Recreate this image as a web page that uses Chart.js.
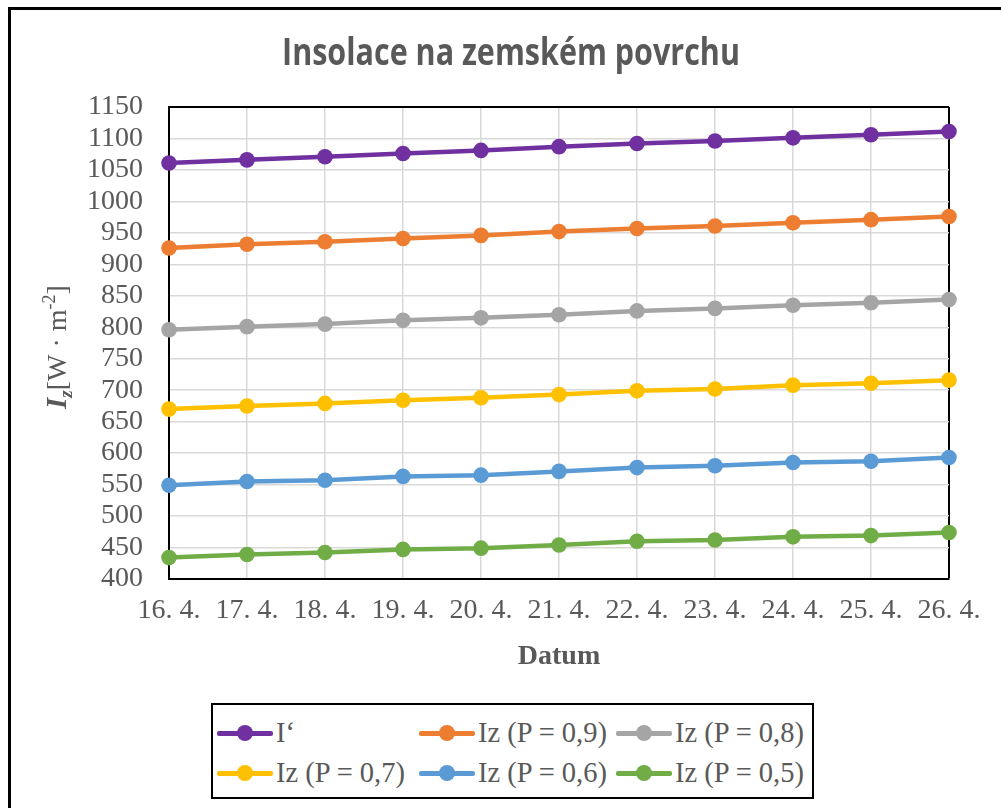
<!DOCTYPE html>
<html>
<head>
<meta charset="utf-8">
<script src="https://cdn.jsdelivr.net/npm/chart.js@4.4.0/dist/chart.umd.min.js"></script>
<style>
  html, body { margin: 0; padding: 0; background: #fff; overflow: hidden; }
  #wrap { position: relative; width: 1001px; height: 808px; }
  #frame { position: absolute; left: 8px; top: 7px; width: 1100px; height: 900px; border: 3px solid #000; }
  canvas { position: absolute; left: 0; top: 0; }
  #legend {
    position: absolute; left: 211px; top: 703px; width: 603px; height: 96px;
    border: 2px solid #000; background: #fff;
    display: grid; grid-template-columns: 202px 197px auto; grid-auto-rows: 40px;
    padding: 8px 0 0 4px; box-sizing: border-box;
    font-family: 'Liberation Serif', 'Times New Roman', serif; font-size: 28.5px; color: #595959;
  }
  .item { display: flex; align-items: center; white-space: nowrap; }
  .sym { position: relative; width: 56px; height: 16px; margin-right: 3px; flex: none; }
  .sym .ln { position: absolute; left: 0; right: 0; top: 6px; height: 4.5px; border-radius: 2px; }
  .sym .dot { position: absolute; left: 20px; top: 0; width: 16px; height: 16px; border-radius: 50%; }
</style>
</head>
<body>
<div id="wrap">
  <div id="frame"></div>
  <canvas id="chart" width="1001" height="808"></canvas>
  <div id="legend"></div>
</div>
<script>
'use strict';

// ─── Data ─────────────────────────────────────────────────────
const dates = ['16. 4.', '17. 4.', '18. 4.', '19. 4.', '20. 4.', '21. 4.',
               '22. 4.', '23. 4.', '24. 4.', '25. 4.', '26. 4.'];

const iPrime = [1061, 1066, 1071, 1076, 1081, 1087, 1092, 1096, 1101, 1106, 1111];
const iz09   = [926, 932, 936, 941, 946, 952, 957, 961, 966, 971, 976];
const iz08   = [796, 801, 805, 811, 815, 820, 826, 830, 835, 839, 844];
const iz07   = [670, 675, 679, 684, 688, 693, 699, 702, 708, 711, 716];
const iz06   = [549, 555, 557, 563, 565, 571, 577, 580, 585, 587, 593];
const iz05   = [434, 439, 442, 447, 449, 454, 460, 462, 467, 469, 474];

const seriesNames  = ['I\u2018', 'Iz (P = 0,9)', 'Iz (P = 0,8)', 'Iz (P = 0,7)', 'Iz (P = 0,6)', 'Iz (P = 0,5)'];
const seriesValues = [iPrime, iz09, iz08, iz07, iz06, iz05];
const seriesColors = ['#7030A0', '#ED7D31', '#A5A5A5', '#FFC000', '#5B9BD5', '#70AD47'];

const chartTitle = 'Insolace na zemském povrchu';

const Y_MIN = 400;
const Y_MAX = 1150;
const Y_STEP = 50;

const GRID = '#D9D9D9';
const TEXT = '#595959';
const SERIF = "'Liberation Serif', 'Times New Roman', serif";

// ─── Title (a bit taller than wide, like Calibri in the original) ──
const titlePlugin = {
    id: 'bigTitle',
    afterDraw(chart) {
        const ctx = chart.ctx;
        ctx.save();
        ctx.font = "bold 30.5px 'Open Sans', sans-serif";
        ctx.fillStyle = TEXT;
        ctx.textAlign = 'center';
        ctx.textBaseline = 'alphabetic';
        ctx.translate(511, 65);
        ctx.scale(1, 1.22);
        ctx.fillText(chartTitle, 0, 0);
        ctx.restore();
    }
};

// ─── Y axis title with sub/superscripts ──────────────────────
const yTitlePlugin = {
    id: 'yTitle',
    afterDraw(chart) {
        const ctx = chart.ctx;
        const area = chart.chartArea;
        const parts = [
            { t: 'I', f: `italic bold 29px ${SERIF}`, dy: 0 },
            { t: 'z', f: `italic bold 19px ${SERIF}`, dy: 6 },
            { t: '[W \u00B7 m', f: `28px ${SERIF}`, dy: 0 },
            { t: '-2', f: `18px ${SERIF}`, dy: -11 },
            { t: ']', f: `28px ${SERIF}`, dy: 0 }
        ];
        ctx.save();
        let total = 0;
        parts.forEach(p => { ctx.font = p.f; p.w = ctx.measureText(p.t).width; total += p.w; });
        ctx.translate(66, (area.top + area.bottom) / 2 + 4);
        ctx.rotate(-Math.PI / 2);
        ctx.fillStyle = TEXT;
        ctx.textBaseline = 'alphabetic';
        ctx.textAlign = 'left';
        let x = -total / 2;
        parts.forEach(p => {
            ctx.font = p.f;
            ctx.fillText(p.t, x, p.dy);
            x += p.w;
        });
        ctx.restore();
    }
};

// ─── Chart ───────────────────────────────────────────────────
const datasets = seriesValues.map((vals, i) => ({
    label: seriesNames[i],
    data: vals,
    borderColor: seriesColors[i],
    backgroundColor: seriesColors[i],
    pointBackgroundColor: seriesColors[i],
    pointBorderColor: seriesColors[i],
    borderWidth: 4.5,
    pointRadius: 7.8,
    pointHoverRadius: 7.8,
    pointBorderWidth: 0,
    tension: 0,
    clip: false
}));

new Chart(document.getElementById('chart'), {
    type: 'line',
    data: { labels: dates, datasets },
    options: {
        responsive: false,
        animation: false,
        devicePixelRatio: 1,
        layout: { padding: { top: 107, left: 0, right: 52, bottom: 129 } },
        plugins: {
            legend: { display: false },
            tooltip: { enabled: false },
            title: { display: false }
        },
        scales: {
            x: {
                offset: false,
                afterFit: s => { s.height = 100; },
                grid: {
                    drawTicks: false,
                    color: c => (c.index === dates.length - 1 ? '#000' : GRID),
                    lineWidth: c => (c.index === dates.length - 1 ? 2 : 1.5)
                },
                border: { color: '#000', width: 2 },
                ticks: {
                    padding: 15,
                    maxRotation: 0,
                    autoSkip: false,
                    color: TEXT,
                    font: { family: SERIF, size: 28 }
                },
                title: {
                    display: true,
                    text: 'Datum',
                    color: TEXT,
                    font: { family: SERIF, size: 28, weight: 'bold' },
                    padding: { top: 0, bottom: 5 }
                }
            },
            y: {
                min: Y_MIN,
                max: Y_MAX,
                afterFit: s => { s.width = 169; },
                grid: {
                    drawTicks: false,
                    color: c => (c.tick && c.tick.value === Y_MAX ? '#000' : GRID),
                    lineWidth: c => (c.tick && c.tick.value === Y_MAX ? 2 : 1.5)
                },
                border: { color: '#000', width: 2 },
                ticks: {
                    stepSize: Y_STEP,
                    autoSkip: false,
                    padding: 26,
                    color: TEXT,
                    font: { family: SERIF, size: 28, lineHeight: 0.9 },
                    callback: v => String(v)
                }
            }
        }
    },
    plugins: [titlePlugin, yTitlePlugin]
});

// ─── Legend (fixed 3-column grid like the original) ──────────
const legend = document.getElementById('legend');
legend.innerHTML = seriesNames.map((name, i) => `
    <div class="item">
      <span class="sym"><span class="ln" style="background:${seriesColors[i]}"></span><span class="dot" style="background:${seriesColors[i]}"></span></span>
      <span>${name}</span>
    </div>`).join('');
</script>
</body>
</html>
